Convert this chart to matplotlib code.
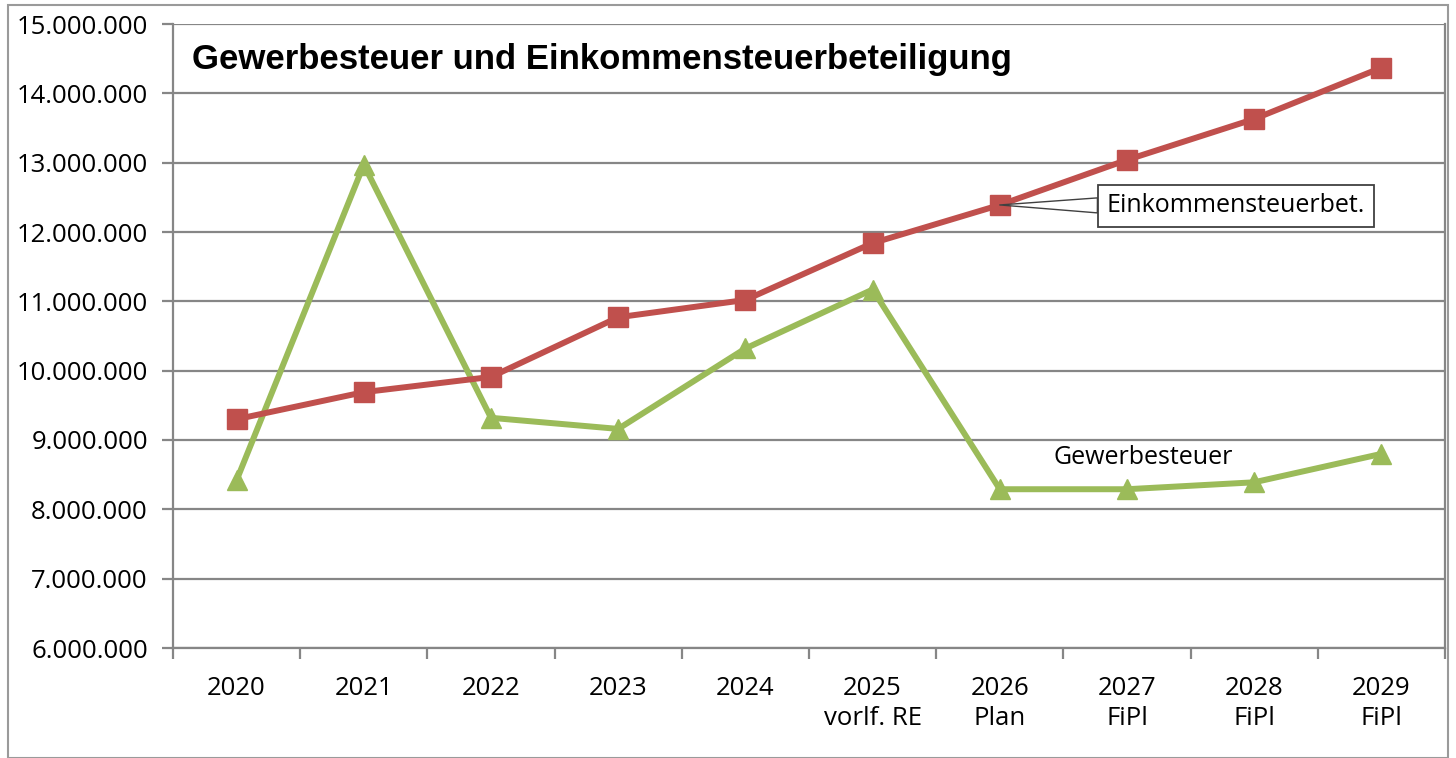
import matplotlib
matplotlib.use("Agg")
import matplotlib.pyplot as plt
from matplotlib.patches import Rectangle
from matplotlib.ticker import FuncFormatter, MultipleLocator

categories = ["2020", "2021", "2022", "2023", "2024", "2025\nvorlf. RE", "2026\nPlan",
              "2027\nFiPl", "2028\nFiPl", "2029\nFiPl"]
einkommen = [9300000, 9690000, 9910000, 10770000, 11020000, 11840000, 12390000,
             13040000, 13630000, 14370000]
gewerbe = [8420000, 12970000, 9320000, 9160000, 10320000, 11170000, 8290000,
           8290000, 8390000, 8800000]
title = "Gewerbesteuer und Einkommensteuerbeteiligung"

W, H = 1456, 758
fig = plt.figure(figsize=(W / 100, H / 100), dpi=100)
ax = fig.add_axes([173 / W, 1 - 648 / H, (1445 - 173) / W, (648 - 24) / H])

red = "#C0504D"
green = "#9BBB59"
grid = "#868686"

x = list(range(len(categories)))
ax.plot(x, gewerbe, color=green, lw=4.3, marker="^", ms=15, zorder=3)
ax.plot(x, einkommen, color=red, lw=4.3, marker="s", ms=14.5, zorder=4)

ax.set_xlim(-0.5, len(categories) - 0.5)
ax.set_ylim(6000000, 15000000)
ax.yaxis.set_major_locator(MultipleLocator(1000000))
ax.yaxis.set_major_formatter(FuncFormatter(lambda v, p: f"{int(v):,}".replace(",", ".")))
ax.grid(axis="y", color=grid, lw=1.6)
ax.set_axisbelow(True)

ax.set_xticks(x)
ax.set_xticklabels(categories, fontsize=18.5, family="Open Sans", linespacing=1.3)
ax.set_xticks([i - 0.5 for i in range(len(categories) + 1)], minor=True)
ax.tick_params(axis="x", which="major", length=0, pad=20)
ax.tick_params(axis="x", which="minor", length=8, width=1.6, color=grid)
ax.tick_params(axis="y", length=8, width=1.6, color=grid, labelsize=18.5, pad=10)
for lab in ax.get_yticklabels():
    lab.set_family("Open Sans")

ax.spines["top"].set_visible(False)
for s in ["left", "bottom", "right"]:
    ax.spines[s].set_color(grid)
    ax.spines[s].set_linewidth(1.6)

ax.text(192 / W, 1 - 60 / H, title, transform=fig.transFigure, fontsize=25,
        fontweight="bold", family="Liberation Sans", va="center", ha="left")

ax.annotate("Einkommensteuerbet.", xy=(6, einkommen[6]), xytext=(1236 / W, 1 - 206 / H),
            textcoords="figure fraction", fontsize=18, family="Open Sans",
            ha="center", va="center",
            bbox=dict(boxstyle="square,pad=0.35", fc="white", ec="#404040", lw=1.3),
            arrowprops=dict(arrowstyle="wedge,tail_width=0.6,shrink_factor=0.5",
                            fc="white", ec="#404040", lw=1.0, shrinkA=0, shrinkB=0),
            zorder=5)

ax.text(1143 / W, 1 - 458 / H, "Gewerbesteuer", transform=fig.transFigure, fontsize=18,
        family="Open Sans", ha="center", va="center")

fig.patches.append(Rectangle((8 / W, 0), (1448 - 8) / W, 1 - 5 / H, transform=fig.transFigure,
                             fill=False, ec="#9a9a9a", lw=1.5))

fig.savefig("out.png", dpi=100)
